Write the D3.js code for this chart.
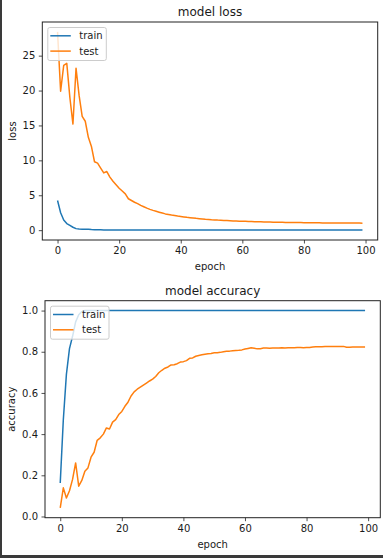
<!DOCTYPE html>
<html>
<head>
<meta charset="utf-8">
<script src="https://cdn.jsdelivr.net/npm/d3@7"></script>
<style>
  html, body { margin: 0; padding: 0; background: #fff; }
  svg { display: block; }
  text { font-family: "DejaVu Sans", sans-serif; fill: #1a1a1a; }
</style>
</head>
<body>
<svg id="chart" width="383" height="558"></svg>
<script>
// ---------- data ----------
const epochs = d3.range(0, 100);
const xTicks = [0, 20, 40, 60, 80, 100];
const lossTicks = [0, 5, 10, 15, 20, 25];
const accTicks = [0.0, 0.2, 0.4, 0.6, 0.8, 1.0];
const seriesNames = ["train", "test"];

const lossTrain = [4.25, 2.5, 1.45, 0.95, 0.68, 0.42, 0.22, 0.15, 0.13, 0.14,
  0.12, 0.08, 0.06, 0.05, 0.045, 0.04, 0.04, 0.035, 0.035, 0.03,
  0.03, 0.03, 0.028, 0.027, 0.026, 0.025, 0.024, 0.023, 0.022, 0.022,
  0.021, 0.02, 0.02, 0.02, 0.019, 0.019, 0.018, 0.018, 0.018, 0.017,
  0.017, 0.017, 0.016, 0.016, 0.016, 0.016, 0.015, 0.015, 0.015, 0.015,
  0.014, 0.014, 0.014, 0.014, 0.014, 0.013, 0.013, 0.013, 0.013, 0.013,
  0.013, 0.012, 0.012, 0.012, 0.012, 0.012, 0.012, 0.012, 0.011, 0.011,
  0.011, 0.011, 0.011, 0.011, 0.011, 0.011, 0.011, 0.01, 0.01, 0.01,
  0.01, 0.01, 0.01, 0.01, 0.01, 0.01, 0.01, 0.01, 0.01, 0.01,
  0.01, 0.01, 0.01, 0.01, 0.01, 0.01, 0.01, 0.01, 0.01, 0.01];

const lossTest = [28.4, 19.9, 23.6, 23.9, 19.0, 15.2, 23.2, 19.3, 16.3, 15.6,
  13.3, 12.0, 9.8, 9.6, 8.9, 8.2, 8.4, 7.6, 7.0, 6.5,
  6.0, 5.6, 5.2, 4.5, 4.25, 4.0, 3.8, 3.55, 3.35, 3.15,
  2.98, 2.83, 2.7, 2.57, 2.45, 2.33, 2.25, 2.17, 2.1, 2.03,
  1.97, 1.9, 1.84, 1.79, 1.74, 1.69, 1.65, 1.61, 1.57, 1.54,
  1.5, 1.47, 1.44, 1.42, 1.39, 1.37, 1.35, 1.33, 1.31, 1.29,
  1.27, 1.26, 1.24, 1.23, 1.22, 1.2, 1.19, 1.18, 1.17, 1.16,
  1.15, 1.14, 1.13, 1.12, 1.11, 1.11, 1.1, 1.09, 1.09, 1.08,
  1.07, 1.07, 1.06, 1.06, 1.05, 1.05, 1.04, 1.04, 1.04, 1.03,
  1.03, 1.03, 1.02, 1.02, 1.02, 1.01, 1.01, 1.01, 1.01, 1.0];

const accTrain = [0.163, 0.47, 0.69, 0.815, 0.875, 0.945, 0.98, 0.995, 1.0, 1.0,
  1.0, 1.0, 1.0, 1.0, 1.0, 1.0, 1.0, 1.0, 1.0, 1.0,
  1.0, 1.0, 1.0, 1.0, 1.0, 1.0, 1.0, 1.0, 1.0, 1.0,
  1.0, 1.0, 1.0, 1.0, 1.0, 1.0, 1.0, 1.0, 1.0, 1.0,
  1.0, 1.0, 1.0, 1.0, 1.0, 1.0, 1.0, 1.0, 1.0, 1.0,
  1.0, 1.0, 1.0, 1.0, 1.0, 1.0, 1.0, 1.0, 1.0, 1.0,
  1.0, 1.0, 1.0, 1.0, 1.0, 1.0, 1.0, 1.0, 1.0, 1.0,
  1.0, 1.0, 1.0, 1.0, 1.0, 1.0, 1.0, 1.0, 1.0, 1.0,
  1.0, 1.0, 1.0, 1.0, 1.0, 1.0, 1.0, 1.0, 1.0, 1.0,
  1.0, 1.0, 1.0, 1.0, 1.0, 1.0, 1.0, 1.0, 1.0, 1.0];

const accTest = [0.042, 0.139, 0.09, 0.125, 0.18, 0.26, 0.147, 0.175, 0.22, 0.236,
  0.288, 0.312, 0.37, 0.382, 0.40, 0.43, 0.425, 0.458, 0.47, 0.495,
  0.51, 0.535, 0.555, 0.585, 0.605, 0.618, 0.628, 0.638, 0.648, 0.658,
  0.667, 0.68, 0.698, 0.71, 0.72, 0.726, 0.736, 0.737, 0.742, 0.75,
  0.752, 0.757, 0.768, 0.77, 0.778, 0.782, 0.785, 0.788, 0.79, 0.792,
  0.795, 0.795, 0.797, 0.8, 0.802, 0.803, 0.805, 0.806, 0.807, 0.809,
  0.813, 0.816, 0.819, 0.817, 0.814, 0.815, 0.818, 0.818, 0.817, 0.818,
  0.818, 0.818, 0.819, 0.818, 0.819, 0.82, 0.82, 0.821, 0.821, 0.82,
  0.821, 0.821, 0.823, 0.824, 0.824, 0.824, 0.825, 0.825, 0.825, 0.825,
  0.826, 0.826, 0.826, 0.822, 0.822, 0.823, 0.823, 0.823, 0.823, 0.823];

// ---------- styling ----------
const colors = ["#1f77b4", "#ff7f0e"];
const svg = d3.select("#chart");

// screenshot frame edges
svg.append("rect").attr("x", 0).attr("y", 0).attr("width", 2).attr("height", 558).attr("fill", "#3a3a3a");
svg.append("rect").attr("x", 0).attr("y", 555).attr("width", 383).attr("height", 3).attr("fill", "#3a3a3a");

function withMargin(values) {
  const [lo, hi] = d3.extent(values);
  const r = hi - lo;
  return [lo - 0.05 * r, hi + 0.05 * r];
}

function panel(opts) {
  const { left, right, top, bottom, title, ylabel, series, yTicks, yFmt, ylabelX } = opts;
  const g = svg.append("g");
  const xDom = withMargin([0, epochs.length - 1]);
  const x = d3.scaleLinear().domain(xDom).range([left, right]);
  const y = d3.scaleLinear().domain(withMargin(series.flat())).range([bottom, top]);

  const clipId = "clip" + Math.round(top);
  svg.append("clipPath").attr("id", clipId).append("rect")
    .attr("x", left).attr("y", top).attr("width", right - left).attr("height", bottom - top);

  const line = d3.line().x((d, i) => x(epochs[i])).y(d => y(d));
  series.forEach((s, k) => {
    g.append("path").datum(s)
      .attr("d", line)
      .attr("fill", "none")
      .attr("stroke", colors[k])
      .attr("stroke-width", 1.5)
      .attr("stroke-linejoin", "round")
      .attr("clip-path", `url(#${clipId})`);
  });

  // axes
  const xAxis = d3.axisBottom(x).tickValues(xTicks).tickSize(3.5).tickPadding(3.5).tickFormat(d3.format("d"));
  const yAxis = d3.axisLeft(y).tickValues(yTicks).tickSize(3.5).tickPadding(3.5).tickFormat(yFmt);
  const gx = g.append("g").attr("transform", `translate(0,${bottom})`).call(xAxis);
  const gy = g.append("g").attr("transform", `translate(${left},0)`).call(yAxis);
  [gx, gy].forEach(a => {
    a.select(".domain").remove();
    a.selectAll(".tick line").attr("stroke", "#222").attr("stroke-width", 0.8);
    a.selectAll(".tick text").attr("font-family", "DejaVu Sans").attr("font-size", 10).attr("fill", "#1a1a1a");
  });

  // frame
  g.append("rect").attr("x", left).attr("y", top).attr("width", right - left).attr("height", bottom - top)
    .attr("fill", "none").attr("stroke", "#222").attr("stroke-width", 1);

  // title & labels
  g.append("text").attr("x", (left + right) / 2).attr("y", top - 6)
    .attr("text-anchor", "middle").attr("font-size", 12).text(title);
  g.append("text").attr("x", (left + right) / 2).attr("y", bottom + 30)
    .attr("text-anchor", "middle").attr("font-size", 10).text("epoch");
  g.append("text").attr("transform", `translate(${ylabelX},${(top + bottom) / 2}) rotate(-90)`)
    .attr("text-anchor", "middle").attr("font-size", 10).text(ylabel);

  // legend
  const lx = left + 5.5, ly = top + 5.5;
  g.append("rect").attr("x", lx).attr("y", ly).attr("width", 58.5).attr("height", 33)
    .attr("rx", 2).attr("fill", "rgba(255,255,255,0.8)").attr("stroke", "#cccccc").attr("stroke-width", 1);
  seriesNames.forEach((n, k) => {
    const yy = ly + 8.3 + k * 15.3;
    g.append("line").attr("x1", lx + 2.5).attr("x2", lx + 23).attr("y1", yy).attr("y2", yy)
      .attr("stroke", colors[k]).attr("stroke-width", 1.5);
    g.append("text").attr("x", lx + 31.5).attr("y", yy + 3.6).attr("font-size", 10).text(n);
  });
}

panel({ left: 42.3, right: 377.7, top: 22, bottom: 240, title: "model loss", ylabel: "loss",
  series: [lossTrain, lossTest], yTicks: lossTicks, yFmt: d3.format("d"), ylabelX: 16 });
panel({ left: 45, right: 380.3, top: 300.7, bottom: 517.7, title: "model accuracy", ylabel: "accuracy",
  series: [accTrain, accTest], yTicks: accTicks, yFmt: d3.format(".1f"), ylabelX: 15 });
</script>
</body>
</html>
